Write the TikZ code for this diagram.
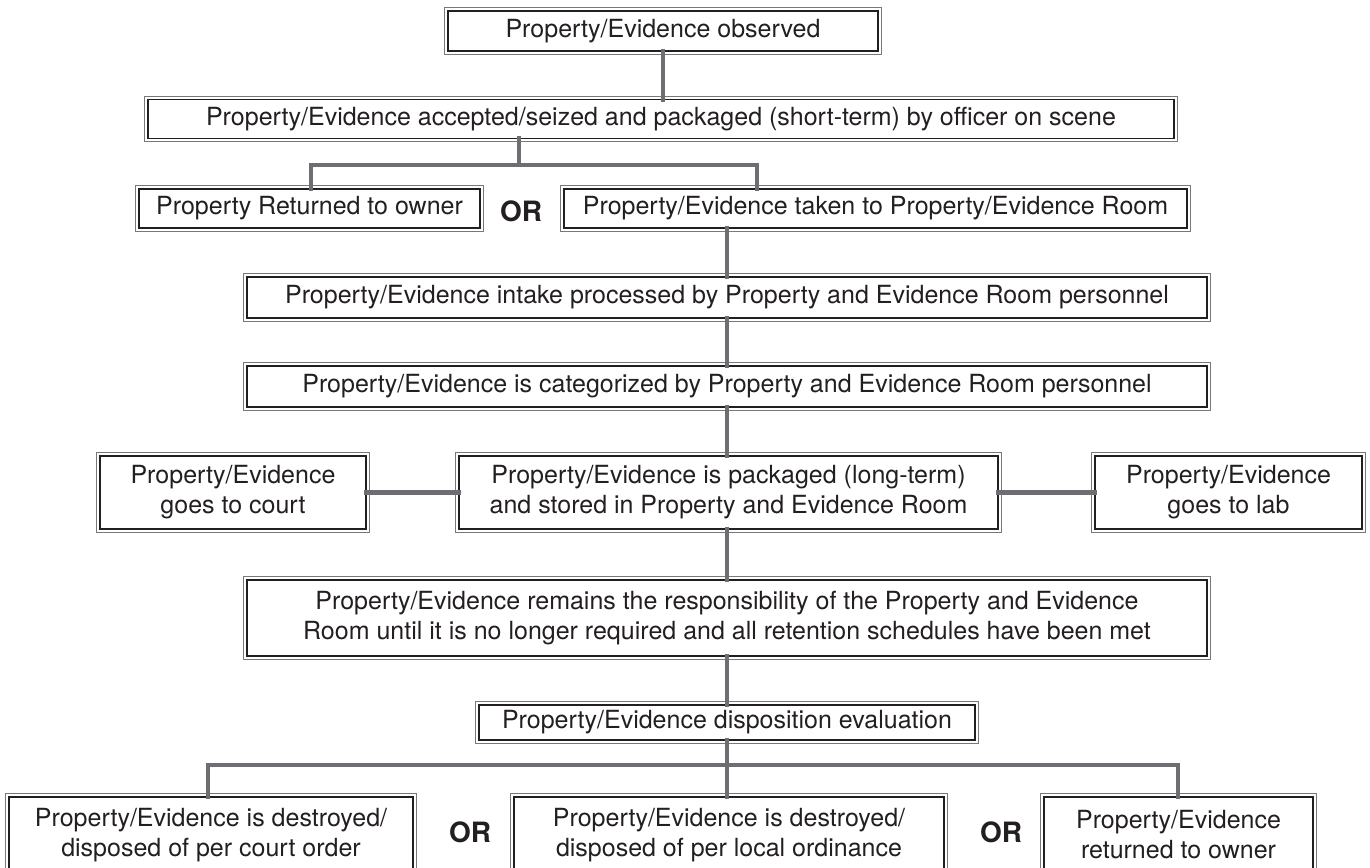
\documentclass[tikz,border=0pt]{standalone}
\usepackage{fontspec}
\setmainfont{TeX Gyre Heros}
\definecolor{conn}{RGB}{109,110,113}
\definecolor{ink}{RGB}{35,31,32}
\definecolor{outerline}{RGB}{120,120,122}
\begin{document}
\begin{tikzpicture}[x=1pt,y=-1pt,
  box/.style={draw=ink, line width=1.1pt, fill=white, text=ink, align=center, inner sep=0pt,
    font=\fontsize{25}{30}\selectfont},
  outerframe/.style={draw=outerline, line width=1pt},
  conline/.style={draw=conn, line width=4.5pt, line join=miter},
  orlabel/.style={text=ink, font=\fontsize{28}{32}\selectfont\bfseries, inner sep=0pt}]
\useasboundingbox (0,0) rectangle (1370,867);
\node[box, minimum width=430, minimum height=40] (b1) at (663,31) {Property/Evidence observed};
\node[box, minimum width=1026, minimum height=39] (b2) at (661,119) {Property/Evidence accepted/seized and packaged (short-term) by officer on scene};
\node[box, minimum width=341, minimum height=39] (b3a) at (309.5,208.5) {Property Returned to owner};
\node[box, minimum width=623, minimum height=39] (b3b) at (875.5,208.5) {Property/Evidence taken to Property/Evidence Room};
\node[orlabel] (or1) at (521,211) {OR};
\node[box, minimum width=960, minimum height=41] (b4) at (727,297.5) {Property/Evidence intake processed by Property and Evidence Room personnel};
\node[box, minimum width=960, minimum height=41] (b5) at (727,386.5) {Property/Evidence is categorized by Property and Evidence Room personnel};
\node[box, minimum width=539, minimum height=73] (b6) at (728.5,492.5) {Property/Evidence is packaged (long-term)\\and stored in Property and Evidence Room};
\node[box, minimum width=266, minimum height=73] (court) at (233,492.5) {Property/Evidence\\goes to court};
\node[box, minimum width=267, minimum height=73] (lab) at (1228.5,492.5) {Property/Evidence\\goes to lab};
\node[box, minimum width=960, minimum height=76] (b7) at (727,618) {Property/Evidence remains the responsibility of the Property and Evidence\\Room until it is no longer required and all retention schedules have been met};
\node[box, minimum width=496, minimum height=35] (b8) at (727,722.5) {Property/Evidence disposition evaluation};
\node[box, minimum width=404, minimum height=76] (bl) at (211,835) {Property/Evidence is destroyed/\\disposed of per court order};
\node[box, minimum width=430, minimum height=76] (bm) at (729,835) {Property/Evidence is destroyed/\\disposed of per local ordinance};
\node[box, minimum width=269, minimum height=76] (br) at (1178.5,835) {Property/Evidence\\returned to owner};
\node[orlabel] (or2) at (470,832) {OR};
\node[orlabel] (or3) at (1001,832) {OR};
\foreach \n in {b1,b2,b3a,b3b,b4,b5,b6,court,lab,b7,b8,bl,bm,br}
  \draw[outerframe] ([shift={(-2.6,-2.6)}]\n.north west) rectangle ([shift={(2.6,2.6)}]\n.south east);
\coordinate (j1) at (519,165);
\coordinate (l1) at (311,165);
\coordinate (r1) at (757,165);
\coordinate (j2) at (727,765);
\coordinate (l2) at (208,765);
\coordinate (r2) at (1178,765);
\draw[conline] ([yshift=3pt]b1.south) -- ([yshift=-3pt]b2.north -| b1.south);
\draw[conline] ([yshift=3pt]b2.south -| j1) -- (j1);
\draw[conline] ([yshift=-3pt]b3a.north -| l1) -- (l1) -- (r1) -- ([yshift=-3pt]b3b.north -| r1);
\draw[conline] ([yshift=3pt]b3b.south -| b4.north) -- ([yshift=-3pt]b4.north);
\draw[conline] ([yshift=3pt]b4.south) -- ([yshift=-3pt]b5.north);
\draw[conline] ([yshift=3pt]b5.south) -- ([yshift=-3pt]b6.north -| b5.south);
\draw[conline] ([yshift=3pt]b6.south -| b7.north) -- ([yshift=-3pt]b7.north);
\draw[conline] ([yshift=3pt]b7.south) -- ([yshift=-3pt]b8.north);
\draw[conline] ([xshift=3pt]b6.west) -- ([xshift=-3pt]court.east);
\draw[conline] ([xshift=-3pt]b6.east) -- ([xshift=3pt]lab.west);
\draw[conline] ([yshift=3pt]b8.south) -- (j2);
\draw[conline] ([yshift=-3pt]bl.north -| l2) -- (l2) -- (r2) -- ([yshift=-3pt]br.north -| r2);
\draw[conline] (j2) -- ([yshift=-3pt]bm.north -| j2);
\end{tikzpicture}
\end{document}
